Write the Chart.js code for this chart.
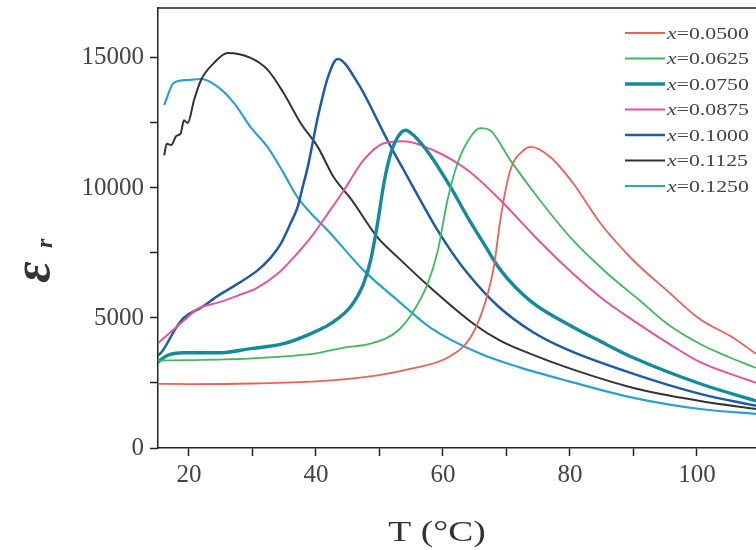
<!DOCTYPE html>
<html>
<head>
<meta charset="utf-8">
<script src="https://cdn.jsdelivr.net/npm/chart.js@4.4.0/dist/chart.umd.min.js"></script>
<style>
  html, body { margin: 0; padding: 0; background: #fff; }
  #wrap { width: 756px; height: 550px; }
</style>
</head>
<body>
<div id="wrap"><canvas id="epsChart" width="756" height="550"></canvas></div>
<script>
// legend labels
const compositions = ['0.0500', '0.0625', '0.0750', '0.0875', '0.1000', '0.1125', '0.1250'];

// axis ticks
const xTicks = [20, 30, 40, 50, 60, 70, 80, 90, 100];
const yTicks = [0, 2500, 5000, 7500, 10000, 12500, 15000];

// x = 0.0500
const temp0500 = [15, 20, 30, 40, 50, 55, 60.7, 64.3, 66.4, 68, 69.1, 70.6, 72.7, 73.8, 76.9, 80.5, 84.8, 90, 95.3, 100.5, 105.7, 109.3];
const eps0500 = [2470, 2460, 2480, 2560, 2800, 3050, 3470, 4240, 5400, 6940, 8870, 10680, 11450, 11580, 11190, 10180, 8640, 7210, 6050, 4950, 4240, 3620];

// x = 0.0625
const temp0625 = [15, 20, 30, 40, 44.4, 48.6, 52.9, 55.4, 57.6, 59.2, 60.7, 62.3, 64.3, 65.9, 67.5, 70.6, 75.3, 80.5, 85.9, 91, 95.3, 100.5, 105, 109.3];
const eps0625 = [3360, 3380, 3450, 3640, 3860, 4010, 4510, 5280, 6320, 7600, 9520, 10950, 11950, 12300, 12200, 11070, 9520, 7980, 6710, 5670, 4780, 4000, 3500, 3080];

// x = 0.0750
const temp0750 = [15, 16.5, 19.2, 24.6, 29.7, 34.9, 39.2, 42.3, 45.5, 47.5, 48.6, 49.7, 50.7, 51.8, 53, 54.1, 55.5, 58, 61.2, 63.9, 66.4, 69.1, 73.8, 79.6, 84.8, 90, 100.5, 109.3];
const eps0750 = [3280, 3550, 3660, 3660, 3820, 4010, 4400, 4780, 5450, 6320, 7210, 8640, 10180, 11340, 12000, 12220, 12000, 11260, 10030, 8870, 7870, 6830, 5650, 4770, 4100, 3470, 2470, 1810];

// x = 0.0875
const temp0875 = [15, 15.6, 19.2, 21.4, 24.6, 27.7, 30.8, 34, 36.5, 39.2, 41.9, 44.4, 47.5, 50.7, 53.8, 58.5, 63.9, 69.1, 74.2, 79.6, 84.8, 90, 96.3, 100.5, 109.3];
const eps0875 = [4000, 4130, 4900, 5360, 5590, 5860, 6170, 6710, 7330, 8100, 9020, 9910, 11070, 11720, 11800, 11450, 10680, 9520, 8200, 6900, 5800, 4900, 3900, 3300, 2510];

// x = 0.1000
const temp1000 = [15, 15.6, 18, 19.2, 21.9, 24.6, 27.7, 30.8, 32.9, 34.5, 36, 37.1, 37.9, 38.7, 40.3, 41.9, 43.4, 46.6, 50.7, 52.2, 53.8, 56.5, 58.5, 61.2, 63.9, 68.6, 74.2, 79.6, 90, 100.5, 109.3];
const eps1000 = [3550, 3660, 4630, 5010, 5400, 5860, 6320, 6830, 7330, 7870, 8640, 9260, 10030, 10800, 12730, 14270, 14960, 14030, 12100, 11400, 10700, 9500, 8640, 7600, 6710, 5470, 4450, 3780, 2850, 2080, 1620];

// x = 0.1125
const temp1125 = [16.1, 16.5, 17.2, 18, 18.7, 19.2, 19.8, 20.8, 21.9, 23.9, 26.1, 29.7, 32.4, 34.9, 37.6, 40.3, 42.8, 45.5, 49.7, 52.9, 58, 64.8, 69, 73.8, 79.6, 90, 100.5, 109.3];
const eps1125 = [11260, 11700, 11650, 12000, 12100, 12600, 12500, 13380, 14150, 14800, 15190, 15000, 14540, 13650, 12490, 11570, 10410, 9580, 8100, 7330, 6170, 4780, 4130, 3620, 3090, 2310, 1810, 1500];

// x = 0.1250
const temp1250 = [16.1, 17.6, 19.8, 21.9, 24.6, 27.1, 29.7, 32.4, 34.9, 37.1, 42.3, 47.5, 52.9, 58, 65.9, 72.2, 79.6, 90, 100.5, 109.3];
const eps1250 = [13190, 14040, 14150, 14190, 13880, 13260, 12340, 11570, 10570, 9640, 8250, 6830, 5670, 4630, 3620, 3090, 2580, 1930, 1500, 1310];

const temps = [temp0500, temp0625, temp0750, temp0875, temp1000, temp1125, temp1250];
const values = [eps0500, eps0625, eps0750, eps0875, eps1000, eps1125, eps1250];
const colors = ['#ef5f58', '#3dba5e', '#138b9c', '#e2559e', '#1e5ba6', '#333333', '#2aa3cc'];
const widths = [1.8, 1.8, 3.4, 2, 2.5, 2, 2.2];

const datasets = compositions.map((c, k) => ({
  label: 'x=' + c,
  data: temps[k].map((t, i) => ({ x: t, y: values[k][i] })),
  borderColor: colors[k],
  borderWidth: widths[k],
  pointRadius: 0,
  fill: false,
  cubicInterpolationMode: 'monotone'
}));

const serif = '"Liberation Serif", "Times New Roman", serif';

// top frame line, axis titles and legend
const extras = {
  id: 'extras',
  afterDraw(chart) {
    const ctx = chart.ctx;
    const area = chart.chartArea;
    ctx.save();
    ctx.strokeStyle = '#222';
    ctx.lineWidth = 1.5;
    ctx.beginPath();
    ctx.moveTo(area.left, area.top);
    ctx.lineTo(area.right, area.top);
    ctx.stroke();

    // x title
    ctx.fillStyle = '#333';
    ctx.textBaseline = 'alphabetic';
    ctx.save();
    ctx.translate(437, 541);
    ctx.scale(1.25, 1);
    ctx.font = '30px ' + serif;
    ctx.textAlign = 'center';
    ctx.fillText('T (°C)', 0, 0);
    ctx.restore();

    // y title
    ctx.save();
    ctx.translate(36, 272);
    ctx.rotate(-Math.PI / 2);
    ctx.font = 'italic bold 52px ' + serif;
    ctx.textAlign = 'center';
    ctx.textBaseline = 'middle';
    ctx.fillText('ε', 0, 0);
    ctx.font = 'italic bold 24px ' + serif;
    ctx.textAlign = 'left';
    ctx.fillText('r', 24, 10);
    ctx.restore();

    // legend
    chart.data.datasets.forEach((ds, k) => {
      const y = 33 + k * 25.5;
      ctx.strokeStyle = ds.borderColor;
      ctx.lineWidth = ds.borderWidth;
      ctx.beginPath();
      ctx.moveTo(625, y);
      ctx.lineTo(665, y);
      ctx.stroke();
      ctx.save();
      ctx.translate(667, y + 5.5);
      ctx.scale(1.28, 1);
      ctx.fillStyle = '#444';
      ctx.textAlign = 'left';
      ctx.textBaseline = 'alphabetic';
      ctx.font = 'italic 17px ' + serif;
      ctx.fillText('x', 0, 0);
      const w = ctx.measureText('x').width;
      ctx.font = '17px ' + serif;
      ctx.fillText('=' + compositions[k], w, 0);
      ctx.restore();
    });
    ctx.restore();
  }
};

const config = {
  type: 'line',
  data: { datasets: datasets },
  options: {
    responsive: false,
    devicePixelRatio: 1,
    animation: false,
    layout: { padding: { top: 8, right: 0, left: 0, bottom: 0 } },
    plugins: { legend: { display: false }, tooltip: { enabled: false } },
    scales: {
      x: {
        type: 'linear',
        min: 15.12,
        max: 109.3,
        afterBuildTicks: (scale) => { scale.ticks = xTicks.map(v => ({ value: v })); },
        afterFit: (scale) => {
          scale.height = 102;
          scale.paddingLeft = 0;
          scale.paddingRight = 0;
        },
        border: { color: '#222', width: 1.5 },
        grid: { drawOnChartArea: false, tickLength: 8, tickColor: '#222', tickWidth: 1.5 },
        ticks: {
          maxRotation: 0,
          autoSkip: false,
          padding: 4,
          color: '#444',
          font: { family: serif, size: 25 },
          callback: (v) => (v % 20 === 0 ? String(v) : '')
        }
      },
      y: {
        min: 0,
        max: 16920,
        afterBuildTicks: (scale) => { scale.ticks = yTicks.map(v => ({ value: v })); },
        afterFit: (scale) => {
          scale.width = 158;
          scale.paddingTop = 0;
          scale.paddingBottom = 0;
        },
        border: { color: '#222', width: 1.5 },
        grid: { drawOnChartArea: false, tickLength: 8, tickColor: '#222', tickWidth: 1.5 },
        ticks: {
          autoSkip: false,
          padding: 6,
          color: '#444',
          font: { family: serif, size: 25 },
          callback: (v) => (v % 5000 === 0 ? String(v) : '')
        }
      }
    }
  },
  plugins: [extras]
};

const chart = new Chart(document.getElementById('epsChart'), config);
</script>
</body>
</html>
